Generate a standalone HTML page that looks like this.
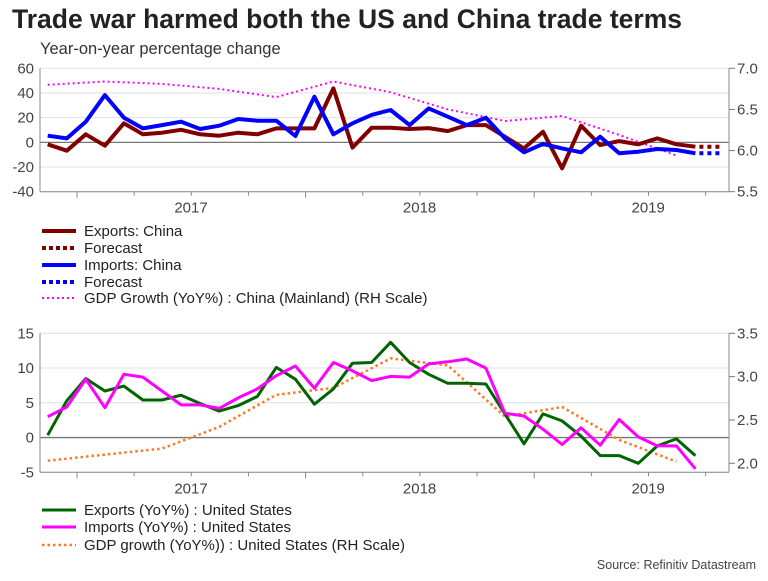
<!DOCTYPE html>
<html><head><meta charset="utf-8"><style>
body{margin:0;background:#fff;font-family:"Liberation Sans",sans-serif;}
svg text{font-family:"Liberation Sans",sans-serif;}
</style></head><body>
<svg id="c" width="768" height="576" xmlns="http://www.w3.org/2000/svg">
<text x="12" y="28" font-size="26.5" font-weight="bold" fill="#222">Trade war harmed both the US and China trade terms</text>
<text x="40" y="54" font-size="16.5" fill="#333">Year-on-year percentage change</text>
<text x="756" y="569" font-size="12.5" fill="#444" text-anchor="end">Source: Refinitiv Datastream</text>
<g id="g"></g>
</svg>
<script>
// Top chart data (China), monthly from Nov 2016
const cnExports=[-1.6,-6.8,6.5,-2.7,15.4,6.5,7.8,10.2,6.5,5.4,7.8,6.5,11.3,11.3,11.3,43.7,-4.3,11.8,11.8,10.8,11.5,9.1,14,14,4.6,-4.9,8.6,-21,13.5,-2.2,1,-1.6,3.2,-1.6,-3.5];
const cnImports=[5.4,3.2,16.7,38.3,20,11.3,14,16.7,10.8,13.5,18.9,17.5,17.5,5.1,37,6.5,15.4,22.2,26.2,14,27.5,20.8,14,20,3.2,-8.1,-1.3,-4.9,-8.1,4.6,-8.9,-7.6,-5.4,-6.2,-8.9];
const cnGdpIdx=[0,3,6,9,12,15,18,21,24,27,30,33];
const cnGdp=[6.80,6.84,6.81,6.75,6.65,6.84,6.71,6.50,6.36,6.42,6.19,5.94];
// Bottom chart data (US)
const usExports=[0.34,5.3,8.5,6.7,7.4,5.4,5.4,6.1,4.9,3.8,4.6,5.9,10.1,8.4,4.8,7.0,10.7,10.8,13.7,10.8,9.1,7.8,7.8,7.7,3.4,-0.9,3.4,2.4,0.2,-2.6,-2.6,-3.7,-1.2,-0.2,-2.6];
const usImports=[3.0,4.4,8.4,4.3,9.1,8.7,6.7,4.7,4.7,4.2,5.7,7.0,8.9,10.3,7.1,10.8,9.6,8.2,8.8,8.7,10.6,10.9,11.3,10.0,3.5,3.1,1.2,-1.0,1.4,-1.1,2.6,0.1,-1.2,-1.2,-4.5];
const usGdpIdx=[0,3,6,9,12,15,18,21,24,27,30,33];
const usGdp=[2.03,2.10,2.17,2.42,2.79,2.87,3.21,3.13,2.54,2.65,2.27,2.02];
const topTicks=[60,40,20,0,-20,-40];
const topRTicks=["7.0","6.5","6.0","5.5"];
const botTicks=[15,10,5,0,-5];
const botRTicks=["3.5","3.0","2.5","2.0"];
const yearLabels=["2017","2018","2019"];

const NS="http://www.w3.org/2000/svg";
const G=document.getElementById('g');
function el(t,a,txt){const e=document.createElementNS(NS,t);for(const k in a)e.setAttribute(k,a[k]);if(txt!==undefined)e.textContent=txt;G.appendChild(e);return e;}
const X0=40,X1=729;
const xm=i=>47.7+19.05*i;

function panel(top,bot,lmin,lmax,rmin,rmax,lt,rt,p){
  const yl=v=>bot-(v-lmin)/(lmax-lmin)*(bot-top);
  const yr=v=>bot-(v-rmin)/(rmax-rmin)*(bot-top);
  lt.forEach(v=>{
    let g=el('line',{x1:X0,x2:X1,y1:yl(v),y2:yl(v),stroke:v===0?'#777':'#dde2e2','stroke-width':v===0?1.3:1});
    
    let t=el('text',{x:34,y:yl(v)+5,'font-size':15,fill:'#444','text-anchor':'end'},String(v));
    
  });
  rt.forEach(s=>{
    const v=parseFloat(s);
    let t=el('text',{x:737,y:yr(v)+5,'font-size':15,fill:'#444'},s);
    
    el('line',{x1:X1,x2:X1+6,y1:yr(v),y2:yr(v),stroke:'#777'});
  });
  let a1=el('line',{x1:X0,x2:X0,y1:top,y2:bot,stroke:'#888'});
  let a2=el('line',{x1:X1,x2:X1,y1:top,y2:bot,stroke:'#888'});
  let a3=el('line',{x1:X0,x2:X1,y1:bot,y2:bot,stroke:'#888'});
  for(let q=0;q<12;q++){const x=77+57.15*q;if(x>X0&&x<X1)el('line',{x1:x,x2:x,y1:bot,y2:bot+(q%4===0?6:4),stroke:'#888'});}
  yearLabels.forEach((s,j)=>{let t=el('text',{x:77+228.6*j+114,y:bot+21,'font-size':15,fill:'#444','text-anchor':'middle'},s);
    });
  return {yl,yr};
}
function line(pts,color,w,dash,name){
  const d=pts.map((p,i)=>(i?'L':'M')+p[0].toFixed(1)+' '+p[1].toFixed(1)).join(' ');
  const a={d:d,fill:'none',stroke:color,'stroke-width':w,'stroke-linejoin':'round'};
  if(dash)a['stroke-dasharray']=dash;
  const e=el('path',a);
  
  
}
// top
const T=panel(68.3,191.7,-40,60,5.5,7.0,topTicks,topRTicks,'top');
line(cnGdpIdx.map((k,i)=>[xm(k),T.yr(cnGdp[i])]),'#ff00ff',2,'2 3','china-gdp-line');
line(cnExports.map((v,i)=>[xm(i),T.yl(v)]),'#800000',4,null,'china-exports-line');
line(cnImports.map((v,i)=>[xm(i),T.yl(v)]),'#0000ff',4,null,'china-imports-line');
const nL=cnExports.length-1;
line([[xm(nL)+4,T.yl(cnExports[nL])],[xm(nL)+24,T.yl(cnExports[nL])]],'#800000',4,'4 4','china-exports-forecast');
line([[xm(nL)+4,T.yl(cnImports[nL])],[xm(nL)+24,T.yl(cnImports[nL])]],'#0000ff',4,'4 4','china-imports-forecast');
// bottom
const B=panel(333.3,472.3,-5,15,1.896,3.5,botTicks,botRTicks,'bottom');
line(usGdpIdx.map((k,i)=>[xm(k),B.yr(usGdp[i])]),'#ff7722',2.5,'2.5 3','us-gdp-line');
line(usExports.map((v,i)=>[xm(i),B.yl(v)]),'#006400',3,null,'us-exports-line');
line(usImports.map((v,i)=>[xm(i),B.yl(v)]),'#ff00ff',3,null,'us-imports-line');
// legends
function leg(y,color,w,dash,label,name){
  const a={x1:42,x2:76,y1:y,y2:y,stroke:color,'stroke-width':w};if(dash)a['stroke-dasharray']=dash;
  const l=el('line',a);
  const t=el('text',{x:84,y:y+5,'font-size':15,fill:'#222'},label);
  
}
leg(231,'#800000',4,null,'Exports: China','legend-china-exports');
leg(248,'#800000',4,'4 3','Forecast','legend-china-exports-forecast');
leg(265,'#0000ff',4,null,'Imports: China','legend-china-imports');
leg(282,'#0000ff',4,'4 3','Forecast','legend-china-imports-forecast');
leg(298,'#ff00ff',2,'2 3','GDP Growth (YoY%) : China (Mainland) (RH Scale)','legend-china-gdp');
leg(510,'#006400',3,null,'Exports (YoY%) :  United States','legend-us-exports');
leg(527,'#ff00ff',3,null,'Imports (YoY%) : United States','legend-us-imports');
leg(545,'#ff7722',2.5,'2.5 3','GDP growth (YoY%)) : United States (RH Scale)','legend-us-gdp');
</script>
</body></html>
